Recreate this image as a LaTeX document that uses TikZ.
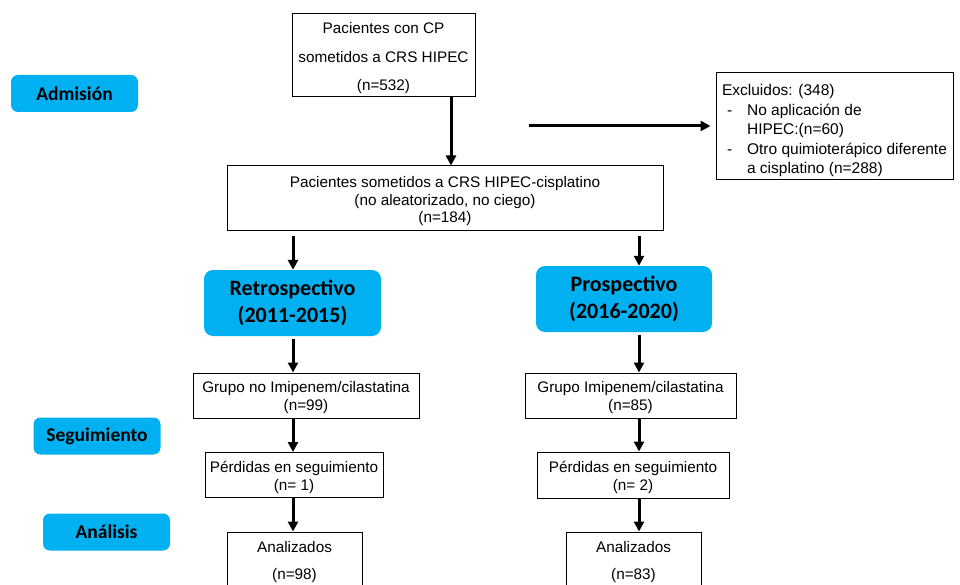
\documentclass[tikz,border=0pt]{standalone}
\usepackage{fontspec}
\setmainfont{Liberation Sans}
\newfontfamily\carlitofont{Carlito}
\usetikzlibrary{arrows.meta}
\definecolor{lbl}{HTML}{00B0F0}
\newcommand{\lowerby}[1]{\rule{0pt}{#1}}
\begin{document}
\begin{tikzpicture}[x=1pt,y=-1pt,
 box/.style={draw=black, line width=1pt, fill=white, inner sep=0pt, align=center, font=\fontsize{15.3}{17.5}\selectfont},
 tag/.style={fill=lbl, rounded corners=7pt, inner sep=0pt, align=center, minimum width=127pt, minimum height=37pt, font=\carlitofont\bfseries\fontsize{19.5}{24}\selectfont},
 phase/.style={fill=lbl, rounded corners=9pt, inner sep=0pt, align=center, minimum height=66pt, font=\carlitofont\bfseries\fontsize{22}{27.5}\selectfont},
 conn/.style={line width=3pt, -{Triangle[length=10pt,width=10pt]}},
]
\path[use as bounding box, clip] (0,0) rectangle (960,585);
\fill[white] (0,0) rectangle (960,585);

% main column
\node[box, minimum width=183pt, minimum height=83pt, font=\fontsize{15.3}{28.5}\selectfont] (top) at (383.5,55.5) {\lowerby{17pt}Pacientes con CP\\sometidos a CRS HIPEC\\(n=532)};
\node[box, minimum width=436pt, minimum height=65pt] (mid) at (445,198.5) {\lowerby{17pt}Pacientes sometidos a CRS HIPEC-cisplatino\\(no aleatorizado, no ciego)\\(n=184)};
\node[box, minimum width=237pt, minimum height=107pt, align=left, font=\fontsize{15.5}{19.5}\selectfont] (exc) at (834.5,126.5) {\lowerby{20pt}Excluidos: (348)\\
\hspace*{5pt}\makebox[20pt][l]{-}No aplicación de\\
\hspace*{25pt}HIPEC:(n=60)\\
\hspace*{5pt}\makebox[20pt][l]{-}Otro quimioterápico diferente\\
\hspace*{25pt}a cisplatino (n=288)};

% side tags
\node[tag] (adm) at (74.5,93.5) {Admisión};
\node[tag] (seg) at (97,436) {Seguimiento};
\node[tag] (ana) at (106.5,532) {Análisis};

% phases
\node[phase, minimum width=177pt] (ret) at (292.5,303) {Retrospectivo\\(2011-2015)};
\node[phase, minimum width=176pt] (pro) at (624,299) {Prospectivo\\(2016-2020)};

% groups
\node[box, minimum width=226pt, minimum height=45pt] (g1) at (306,395.5) {\lowerby{15pt}Grupo no Imipenem/cilastatina\\(n=99)};
\node[box, minimum width=211pt, minimum height=45pt] (g2) at (630.5,395.5) {\lowerby{15pt}Grupo Imipenem/cilastatina\\(n=85)};
\node[box, minimum width=178pt, minimum height=45pt] (p1) at (294,475) {\lowerby{16pt}Pérdidas en seguimiento\\(n= 1)};
\node[box, minimum width=192pt, minimum height=46pt] (p2) at (633,475) {\lowerby{16pt}Pérdidas en seguimiento\\(n= 2)};
\node[box, minimum width=135pt, minimum height=56pt, font=\fontsize{15.3}{27}\selectfont] (a1) at (294.5,560) {\lowerby{15pt}Analizados\\(n=98)};
\node[box, minimum width=135pt, minimum height=56pt, font=\fontsize{15.3}{27}\selectfont] (a2) at (633.5,560) {\lowerby{15pt}Analizados\\(n=83)};

% connectors
\coordinate (cT) at (451,0);
\coordinate (cL) at (293,0);
\coordinate (cR) at (639,0);
\coordinate (exs) at (529,126);
\draw[conn] (top.south -| cT) -- (mid.north -| cT);
\draw[conn, shorten >=5pt] (exs) -- (exs -| exc.west);
\draw[conn, shorten <=5pt] (mid.south -| cL) -- (ret.north -| cL);
\draw[conn, shorten <=5pt] (mid.south -| cR) -- (pro.north -| cR);
\draw[conn, shorten <=3pt] (ret.south -| cL) -- (g1.north -| cL);
\draw[conn, shorten <=3pt] (pro.south -| cR) -- (g2.north -| cR);
\draw[conn] (g1.south -| cL) -- (p1.north -| cL);
\draw[conn] (g2.south -| cR) -- (p2.north -| cR);
\draw[conn] (p1.south -| cL) -- (a1.north -| cL);
\draw[conn] (p2.south -| cR) -- (a2.north -| cR);
\end{tikzpicture}
\end{document}
